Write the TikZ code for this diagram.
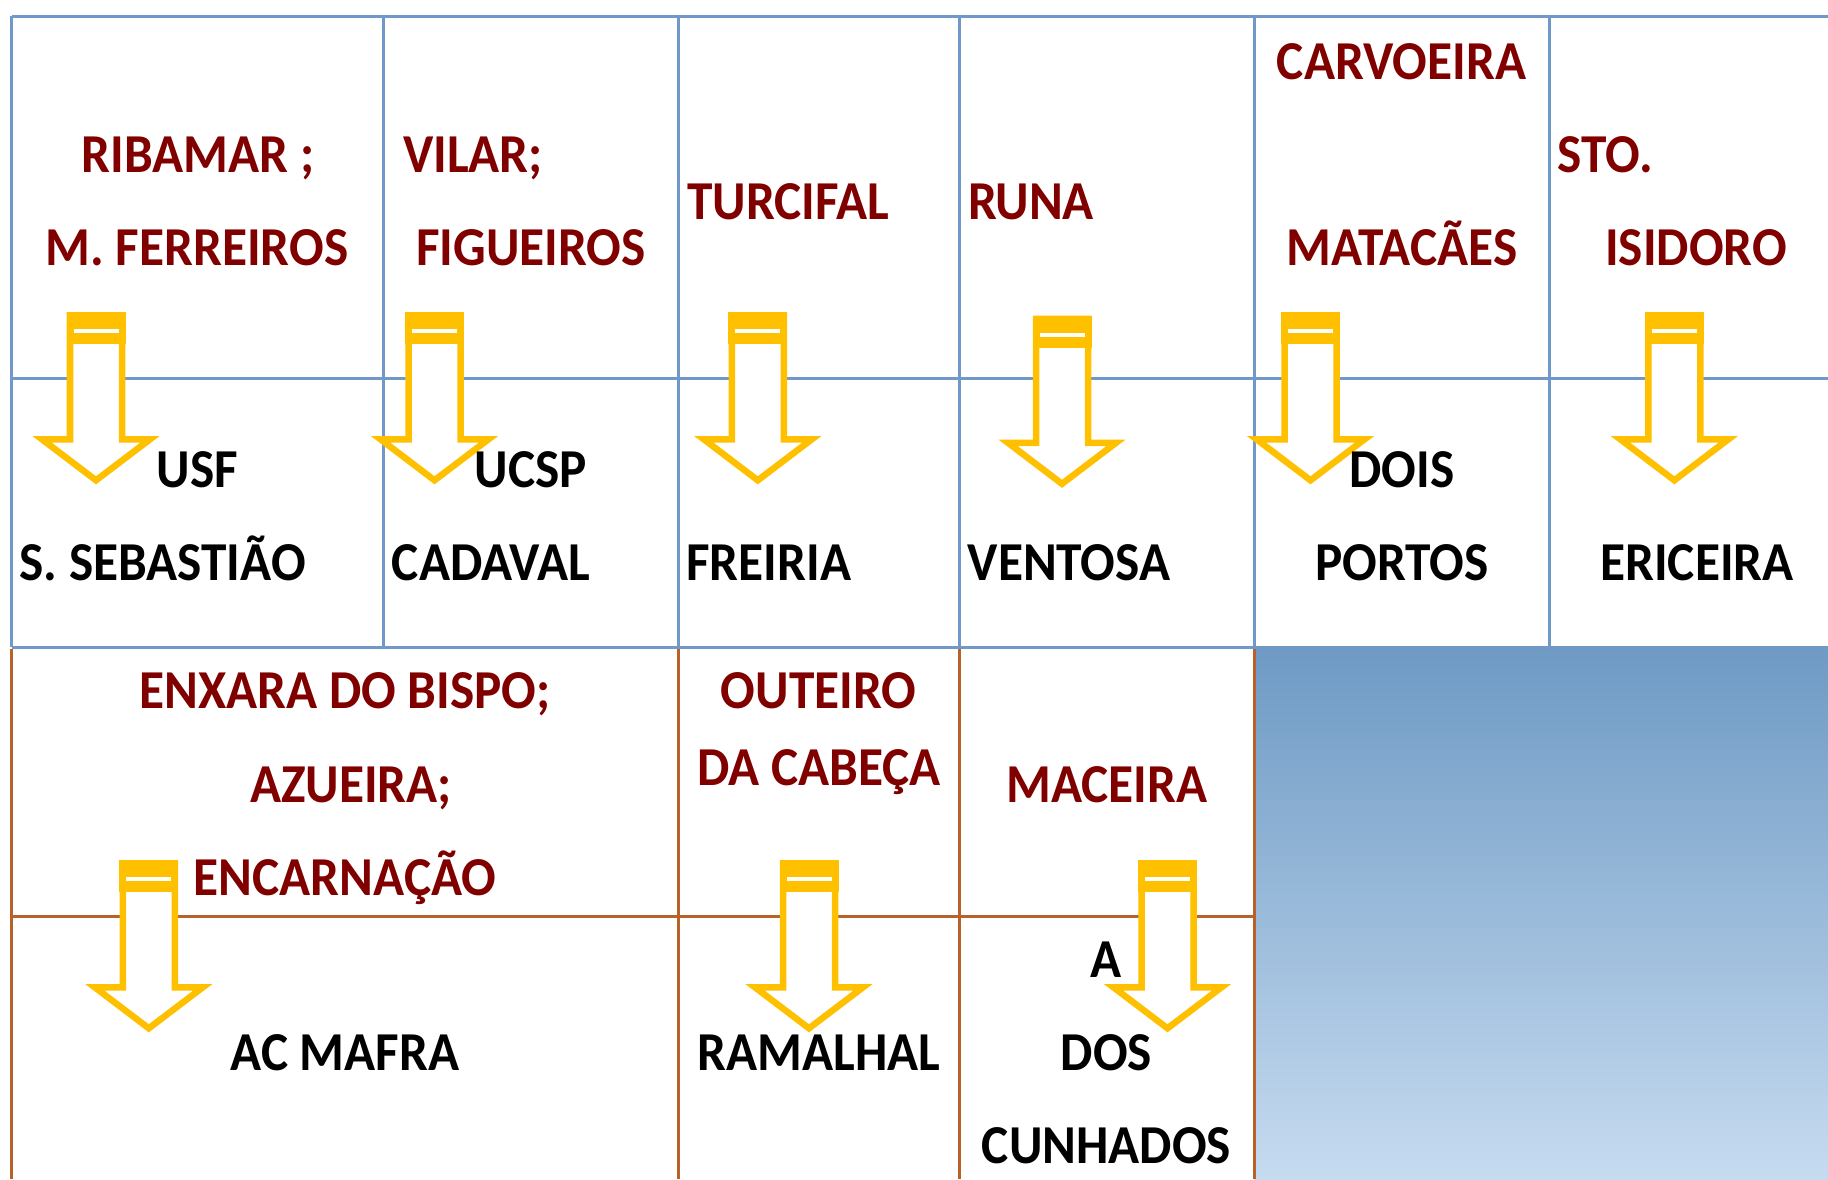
\documentclass[tikz,border=0pt]{standalone}
\usepackage{fontspec}
\setmainfont{Carlito}[FakeStretch=0.935]
\definecolor{gridblue}{RGB}{112,152,200}
\definecolor{gridbrown}{RGB}{184,98,42}
\definecolor{placered}{RGB}{128,0,0}
\definecolor{arrowyellow}{RGB}{255,192,0}
\definecolor{gradtop}{RGB}{110,154,196}
\definecolor{gradbot}{RGB}{198,219,240}
\begin{document}
\begin{tikzpicture}[
x=0.01cm, y=-0.01cm,
place/.style={font=\fontsize{15.6}{18}\selectfont\bfseries, text=placered, anchor=base, inner sep=0pt},
unit/.style={font=\fontsize{15.6}{18}\selectfont\bfseries, text=black, anchor=base, inner sep=0pt},
blueline/.style={draw=gridblue, line width=0.03cm},
brownline/.style={draw=gridbrown, line width=0.03cm},
down arrow/.pic={
  \draw[arrowyellow, line width=0.065cm, fill=white]
    (-26,3) -- (26,3) -- (26,127) -- (54,127) -- (0,168) -- (-54,127) -- (-26,127) -- cycle;
  \fill[arrowyellow] (-29.5,0) rectangle (29.5,32);
  \fill[white] (-22.5,17) rectangle (22.5,21);
},
]
\useasboundingbox (0,0) rectangle (1828,1179);
\shade[top color=gradtop, bottom color=gradbot] (1254.4,647) rectangle (1828,1179);
% upper table
\draw[blueline] (11.7,16.3) -- (1828,16.3);
\draw[blueline] (11.7,378.9) -- (1828,378.9);
\draw[blueline] (11.7,647) -- (1828,647);
\draw[blueline] (11.7,16.3) -- (11.7,647);
\draw[blueline] (383.6,16.3) -- (383.6,647);
\draw[blueline] (678.5,16.3) -- (678.5,647);
\draw[blueline] (959.5,16.3) -- (959.5,647);
\draw[blueline] (1254.4,16.3) -- (1254.4,647);
\draw[blueline] (1549.4,16.3) -- (1549.4,647);
% lower table
\draw[brownline] (11.7,916) -- (1254.4,916);
\draw[brownline] (11.7,648.5) -- (11.7,1179);
\draw[brownline] (678.5,648.5) -- (678.5,1179);
\draw[brownline] (959.5,648.5) -- (959.5,1179);
\draw[brownline] (1254.4,648.5) -- (1254.4,1179);
% arrows
\pic at (96,312.3) {down arrow};
\pic at (434.5,312.3) {down arrow};
\pic at (757.8,312.3) {down arrow};
\pic at (1062,315.8) {down arrow};
\pic at (1310.5,312.3) {down arrow};
\pic at (1674.3,312.3) {down arrow};
\pic at (148.8,860.3) {down arrow};
\pic at (809,860.3) {down arrow};
\pic at (1167.5,860.3) {down arrow};
% places
\node[place] (ribamar) at (198,172.5) {RIBAMAR ;};
\node[place] (ferreiros) at (197,265.8) {M. FERREIROS};
\node[place] (vilar) at (473,172.5) {VILAR;};
\node[place] (figueiros) at (531,265.8) {FIGUEIROS};
\node[place] (turcifal) at (788,219.2) {TURCIFAL};
\node[place] (runa) at (1031,219.2) {RUNA};
\node[place] (carvoeira) at (1401.5,79.3) {CARVOEIRA};
\node[place] (matacaes) at (1402,265.8) {MATACÃES};
\node[place] (sto) at (1605.3,172.5) {STO.};
\node[place] (isidoro) at (1696,265.8) {ISIDORO};
\node[place] (enxara) at (345,708.8) {ENXARA DO BISPO;};
\node[place] (azueira) at (351,802) {AZUEIRA;};
\node[place] (encarnacao) at (345,895.3) {ENCARNAÇÃO};
\node[place] (outeiro) at (818.5,708.8) {OUTEIRO};
\node[place] (cabeca) at (819,785.8) {DA CABEÇA};
\node[place] (maceira) at (1107,802) {MACEIRA};
% units
\node[unit] (usf) at (197.6,487.3) {USF};
\node[unit] (sebastiao) at (162.6,580.6) {S. SEBASTIÃO};
\node[unit] (ucsp) at (531,487.3) {UCSP};
\node[unit] (cadaval) at (491,580.6) {CADAVAL};
\node[unit] (freiria) at (768.8,580.6) {FREIRIA};
\node[unit] (ventosa) at (1069,580.6) {VENTOSA};
\node[unit] (dois) at (1402,487.3) {DOIS};
\node[unit] (portos) at (1402,580.6) {PORTOS};
\node[unit] (ericeira) at (1697,580.6) {ERICEIRA};
\node[unit] (mafra) at (345,1070) {AC MAFRA};
\node[unit] (ramalhal) at (819,1070) {RAMALHAL};
\node[unit] (a) at (1106.5,977) {A};
\node[unit] (dos) at (1106.5,1070) {DOS};
\node[unit] (cunhados) at (1106.5,1163.5) {CUNHADOS};
\end{tikzpicture}
\end{document}
